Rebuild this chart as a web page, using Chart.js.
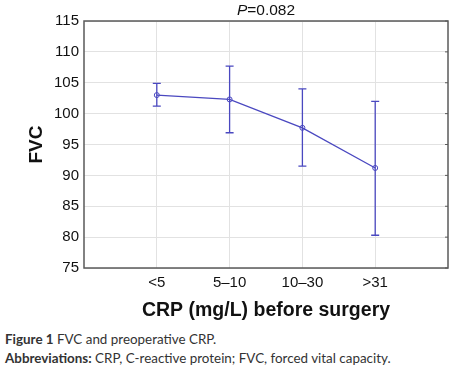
<!DOCTYPE html>
<html>
<head>
<meta charset="utf-8">
<script src="https://cdn.jsdelivr.net/npm/chart.js@4.4.0/dist/chart.umd.min.js"></script>
<style>
  html, body { margin: 0; padding: 0; background: #fff; }
  #wrap { position: relative; width: 474px; height: 371px; }
  #chartBox { position: absolute; left: 0; top: 0; width: 474px; height: 325px; }
  .cap { position: absolute; left: 5px; font-family: Lato, "Open Sans", sans-serif; font-size: 13.4px; color: #333; white-space: nowrap; }
  .cap b { font-weight: 700; }
</style>
</head>
<body>
<div id="wrap">
  <div id="chartBox"><canvas id="c"></canvas></div>
  <div class="cap" style="top:331px;"><b>Figure 1</b> FVC and preoperative CRP.</div>
  <div class="cap" style="top:350px;"><b>Abbreviations:</b> CRP, C-reactive protein; FVC, forced vital capacity.</div>
</div>
<script>
const categories = ['<5', '5\u201310', '10\u201330', '>31'];
const means = [103.0, 102.3, 97.7, 91.2];
const upper = [104.9, 107.7, 104.0, 102.0];
const lower = [101.2, 96.9, 91.5, 80.3];
const yTicks = [75, 80, 85, 90, 95, 100, 105, 110, 115];
const pValue = '=0.082';

const lineColor = '#4a48c0';
const FONT = '"Liberation Sans", Arial, sans-serif';

const frameAndErrors = {
  id: 'frameAndErrors',
  afterDraw(chart) {
    const ctx = chart.ctx;
    const a = chart.chartArea;
    const xs = chart.scales.x, ys = chart.scales.y;
    ctx.save();
    // frame
    ctx.strokeStyle = '#5a5a5a';
    ctx.lineWidth = 1.5;
    ctx.strokeRect(a.left, a.top, a.right - a.left, a.bottom - a.top);
    // small inner ticks on right edge
    ctx.lineWidth = 1;
    ys.ticks.forEach(t => {
      const y = ys.getPixelForValue(t.value);
      ctx.beginPath(); ctx.moveTo(a.right - 3, y); ctx.lineTo(a.right, y); ctx.stroke();
    });
    // title with italic P
    ctx.fillStyle = '#111';
    ctx.textBaseline = 'middle';
    ctx.font = 'italic 15.5px ' + FONT;
    const w1 = ctx.measureText('P').width;
    ctx.font = '15.5px ' + FONT;
    const w2 = ctx.measureText(pValue).width;
    const cx = (a.left + a.right) / 2;
    const x0 = cx - (w1 + w2) / 2;
    ctx.textAlign = 'left';
    ctx.font = 'italic 15.5px ' + FONT;
    ctx.fillText('P', x0, 11);
    ctx.font = '15.5px ' + FONT;
    ctx.fillText(pValue, x0 + w1, 11);
    // error bars
    ctx.strokeStyle = lineColor;
    ctx.lineWidth = 1.3;
    means.forEach((m, i) => {
      const x = xs.getPixelForValue(i + 1);
      const yu = ys.getPixelForValue(upper[i]);
      const yl = ys.getPixelForValue(lower[i]);
      ctx.beginPath();
      ctx.moveTo(x, yu); ctx.lineTo(x, yl);
      ctx.moveTo(x - 4, yu); ctx.lineTo(x + 4, yu);
      ctx.moveTo(x - 4, yl); ctx.lineTo(x + 4, yl);
      ctx.stroke();
    });
    ctx.restore();
  }
};

new Chart(document.getElementById('c'), {
  type: 'line',
  data: {
    datasets: [{
      data: means.map((m, i) => ({ x: i + 1, y: m })),
      borderColor: lineColor,
      borderWidth: 1.3,
      pointRadius: 2.5,
      pointBackgroundColor: 'rgba(255,255,255,0)',
      pointBorderColor: lineColor,
      pointBorderWidth: 1,
      tension: 0
    }]
  },
  options: {
    responsive: true,
    maintainAspectRatio: false,
    animation: false,
    layout: { padding: { top: 21, right: 26, left: 0, bottom: 0 } },
    plugins: { legend: { display: false }, tooltip: { enabled: false } },
    scales: {
      x: {
        type: 'linear', min: 0, max: 5,
        afterBuildTicks(scale) { scale.ticks = categories.map((c, i) => ({ value: i + 1 })); },
        afterFit(scale) { scale.height = 57; },
        grid: { color: '#e2e2e2', drawTicks: false },
        border: { display: false },
        ticks: {
          padding: 6,
          color: '#111',
          font: { family: FONT, size: 15 },
          callback: (v) => categories[Math.round(v) - 1] || ''
        },
        title: {
          display: true, text: 'CRP (mg/L) before surgery', color: '#111',
          font: { family: FONT, size: 19.5, weight: 'bold' },
          padding: { top: 0, bottom: 3 }
        }
      },
      y: {
        min: 75, max: 115,
        afterBuildTicks(scale) { scale.ticks = yTicks.map(v => ({ value: v })); },
        afterFit(scale) { scale.width = 84; },
        grid: { color: '#e2e2e2', drawTicks: false },
        border: { display: false },
        ticks: {
          padding: 5,
          color: '#111',
          font: { family: FONT, size: 15 }
        },
        title: {
          display: true, text: 'FVC', color: '#111',
          font: { family: FONT, size: 19, weight: 'bold' },
          padding: { top: 25, bottom: 0 }
        }
      }
    }
  },
  plugins: [frameAndErrors]
});
</script>
</body>
</html>
